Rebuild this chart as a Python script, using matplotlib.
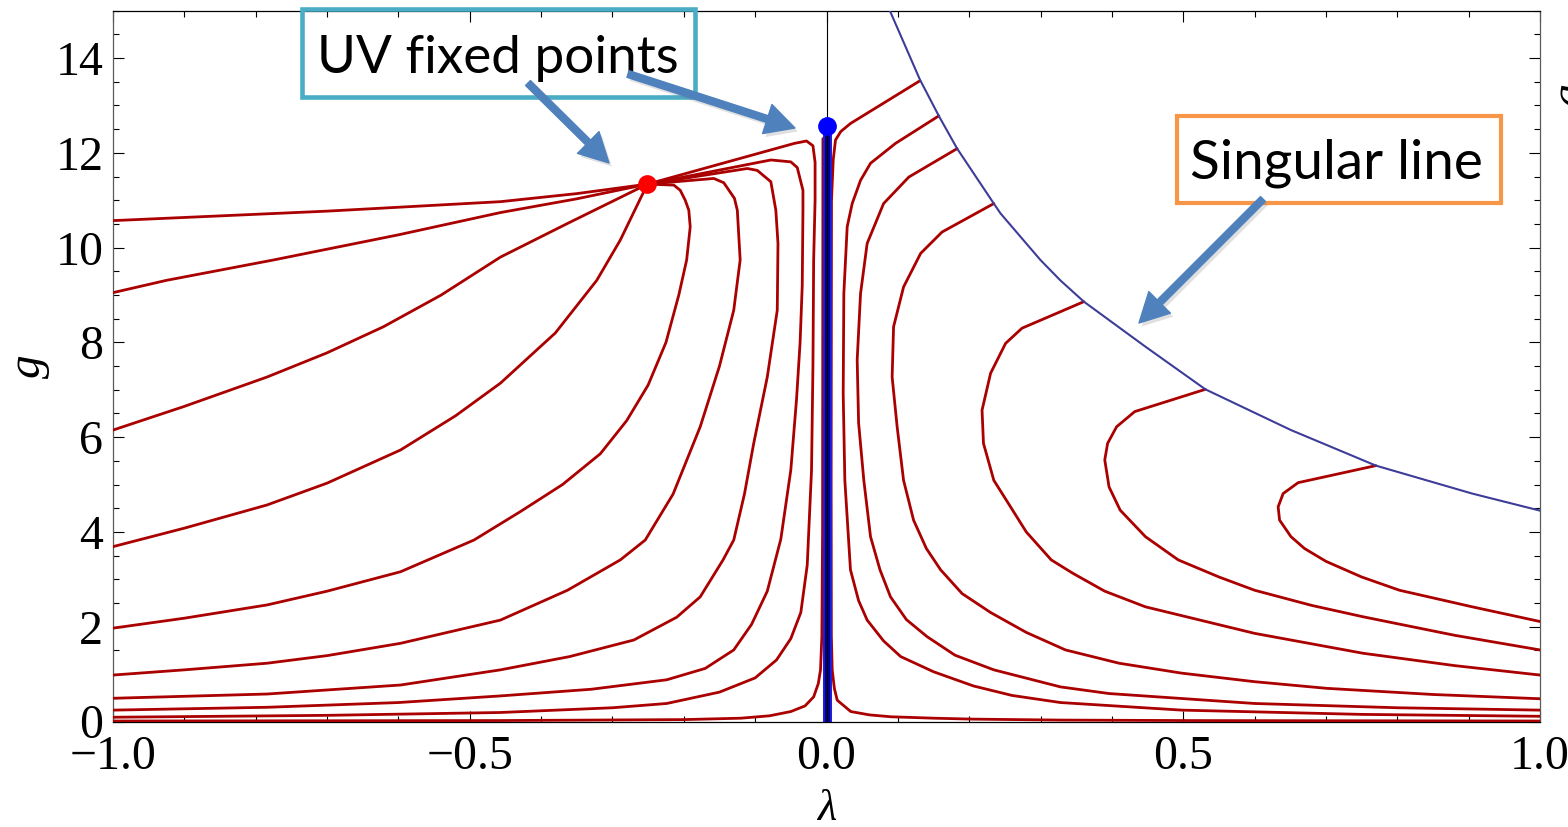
"""RG flow diagram in the (lambda, g) plane with the two UV fixed points and the singular line."""

import matplotlib

matplotlib.use("Agg")
import matplotlib.pyplot as plt
import matplotlib.patheffects as pe
from matplotlib.patches import Rectangle, FancyArrowPatch, ArrowStyle
from matplotlib.ticker import MultipleLocator

W, H = 1568, 827

# --- data ----------------------------------------------------------------
X_TICKS = [-1.0, -0.5, 0.0, 0.5, 1.0]
X_TICK_LABELS = ["\u22121.0", "\u22120.5", "0.0", "0.5", "1.0"]
Y_TICKS = [0, 2, 4, 6, 8, 10, 12, 14]

NGFP = (-0.251, 11.34)   # red fixed point
GFP = (0.0, 12.56)       # blue fixed point
GFP_LINE_G = [0.0, 12.56]

SING_LAM = [0.0888, 0.1308, 0.1574, 0.1831, 0.2345, 0.244, 0.2998, 0.3277,
            0.3607, 0.447, 0.531, 0.651, 0.770, 0.905, 1.0]
SING_G = [15.0, 13.55, 12.78, 12.09, 10.93, 10.72, 9.74, 9.31,
          8.86, 7.91, 7.01, 6.15, 5.40, 4.81, 4.45]

# trajectories on the lambda < 0 side (ending in the red fixed point)
A1_LAM = [-1.0, -0.7, -0.457, -0.35, -0.251]
A1_G = [10.57, 10.77, 10.97, 11.14, 11.34]
A2_LAM = [-1.0, -0.925, -0.775, -0.6, -0.457, -0.35, -0.251]
A2_G = [9.05, 9.31, 9.74, 10.27, 10.74, 11.03, 11.34]
A3_LAM = [-1.0, -0.9, -0.784, -0.7, -0.621, -0.54, -0.457, -0.363, -0.251]
A3_G = [6.15, 6.65, 7.27, 7.78, 8.33, 9.0, 9.8, 10.51, 11.34]
A4_LAM = [-1.0, -0.9, -0.784, -0.7, -0.597, -0.52, -0.457, -0.38, -0.322, -0.289, -0.251]
A4_G = [3.69, 4.08, 4.57, 5.03, 5.73, 6.45, 7.14, 8.2, 9.31, 10.16, 11.34]
A5_LAM = [-1.0, -0.9, -0.784, -0.7, -0.597, -0.494, -0.429, -0.37, -0.317, -0.28,
          -0.25, -0.225, -0.207, -0.196, -0.191, -0.193, -0.198, -0.205, -0.214, -0.251]
A5_G = [1.97, 2.18, 2.46, 2.75, 3.16, 3.83, 4.43, 5.0, 5.65, 6.35,
        7.1, 8.0, 9.0, 9.74, 10.44, 10.79, 11.0, 11.21, 11.32, 11.34]
A6_LAM = [-1.0, -0.9, -0.784, -0.7, -0.597, -0.457, -0.363, -0.289, -0.254, -0.215,
          -0.177, -0.15, -0.13, -0.121, -0.125, -0.129, -0.144, -0.158, -0.251]
A6_G = [0.98, 1.09, 1.23, 1.39, 1.65, 2.14, 2.77, 3.41, 3.83, 4.8,
        6.22, 7.5, 8.68, 9.74, 10.79, 11.04, 11.37, 11.46, 11.34]
A7_LAM = [-1.0, -0.784, -0.597, -0.457, -0.36, -0.27, -0.21, -0.177, -0.145, -0.13,
          -0.115, -0.102, -0.083, -0.069, -0.068, -0.071, -0.078, -0.097, -0.111, -0.251]
A7_G = [0.49, 0.58, 0.77, 1.09, 1.37, 1.72, 2.2, 2.63, 3.41, 3.83,
        4.8, 5.87, 7.27, 8.68, 10.09, 10.79, 11.39, 11.63, 11.67, 11.34]
A8_LAM = [-1.0, -0.784, -0.6, -0.457, -0.33, -0.224, -0.17, -0.13, -0.105, -0.083,
          -0.064, -0.05, -0.042, -0.037, -0.034, -0.033, -0.033, -0.041, -0.05, -0.078, -0.251]
A8_G = [0.24, 0.30, 0.40, 0.54, 0.68, 0.88, 1.12, 1.51, 2.05, 2.75,
        3.85, 5.31, 6.8, 8.0, 9.2, 10.79, 11.21, 11.69, 11.81, 11.85, 11.34]
A9_LAM = [-1.0, -0.7, -0.457, -0.3, -0.224, -0.15, -0.1, -0.07, -0.05, -0.036,
          -0.027, -0.021, -0.019, -0.018, -0.016, -0.016, -0.019, -0.028, -0.045, -0.251]
A9_G = [0.09, 0.13, 0.19, 0.29, 0.38, 0.62, 0.92, 1.3, 1.75, 2.3,
        3.3, 5.3, 7.5, 9.74, 11.0, 11.8, 12.15, 12.25, 12.2, 11.34]
A10_LAM = [-1.0, -0.457, -0.2, -0.12, -0.08, -0.05, -0.03, -0.018, -0.0115, -0.0084,
           -0.0065, -0.0055, -0.005]
A10_G = [0.01, 0.02, 0.04, 0.07, 0.12, 0.21, 0.33, 0.52, 0.8, 1.09,
         1.79, 4.0, 12.3]

# trajectories on the lambda > 0 side (starting on the singular line)
R1_LAM = [0.1308, 0.0336, 0.02, 0.0126, 0.0094, 0.007, 0.0065, 0.0068, 0.008, 0.011,
          0.015, 0.034, 0.06, 0.09, 0.15, 0.206, 0.328, 0.5, 0.75, 1.0]
R1_G = [13.52, 12.62, 12.45, 12.27, 11.85, 11.0, 5.0, 1.8, 1.09, 0.7,
        0.45, 0.21, 0.14, 0.10, 0.07, 0.05, 0.03, 0.02, 0.015, 0.01]
R2_LAM = [0.1574, 0.0967, 0.0617, 0.0477, 0.036, 0.029, 0.0243, 0.0234, 0.0257, 0.0336,
          0.045, 0.057, 0.08, 0.104, 0.15, 0.206, 0.26, 0.328, 0.498, 0.75, 1.0]
R2_G = [12.78, 12.2, 11.78, 11.42, 10.93, 10.44, 9.03, 6.92, 5.09, 3.2,
        2.55, 2.14, 1.7, 1.37, 1.05, 0.75, 0.55, 0.40, 0.24, 0.15, 0.11]
R3_LAM = [0.1831, 0.1154, 0.08, 0.057, 0.0477, 0.043, 0.045, 0.0523, 0.0617, 0.075,
          0.0897, 0.112, 0.141, 0.18, 0.2345, 0.328, 0.396, 0.6, 0.8, 1.0]
R3_G = [12.09, 11.49, 10.93, 10.09, 9.03, 7.63, 6.3, 5.09, 3.90, 3.2,
        2.63, 2.15, 1.79, 1.4, 1.09, 0.73, 0.59, 0.38, 0.29, 0.24]
R4_LAM = [0.2345, 0.162, 0.132, 0.108, 0.094, 0.092, 0.099, 0.108, 0.122, 0.14,
          0.160, 0.19, 0.23, 0.28, 0.335, 0.41, 0.498, 0.6, 0.701, 0.85, 1.0]
R4_G = [10.93, 10.33, 9.88, 9.17, 8.33, 7.27, 6.22, 5.09, 4.25, 3.65,
        3.20, 2.7, 2.3, 1.88, 1.51, 1.23, 1.02, 0.84, 0.70, 0.57, 0.48]
R5_LAM = [0.3607, 0.274, 0.251, 0.23, 0.218, 0.22, 0.2345, 0.255, 0.28, 0.315,
          0.345, 0.39, 0.447, 0.6, 0.752, 0.88, 1.0]
R5_G = [8.86, 8.30, 7.98, 7.35, 6.57, 5.87, 5.09, 4.6, 4.0, 3.41,
        3.13, 2.75, 2.42, 1.86, 1.44, 1.18, 0.98]
R6_LAM = [0.531, 0.432, 0.4066, 0.394, 0.390, 0.396, 0.4116, 0.447, 0.493, 0.55,
          0.6, 0.68, 0.752, 0.88, 1.0]
R6_G = [7.01, 6.54, 6.22, 5.87, 5.52, 4.95, 4.46, 3.90, 3.41, 3.05,
        2.77, 2.45, 2.21, 1.82, 1.51]
R7_LAM = [0.770, 0.661, 0.640, 0.633, 0.635, 0.651, 0.67, 0.70, 0.75, 0.803, 0.905, 1.0]
R7_G = [5.40, 5.04, 4.81, 4.53, 4.25, 3.90, 3.65, 3.38, 3.05, 2.77, 2.42, 2.11]

FLOWS = [
    (A1_LAM, A1_G), (A2_LAM, A2_G), (A3_LAM, A3_G), (A4_LAM, A4_G), (A5_LAM, A5_G),
    (A6_LAM, A6_G), (A7_LAM, A7_G), (A8_LAM, A8_G), (A9_LAM, A9_G), (A10_LAM, A10_G),
    (R1_LAM, R1_G), (R2_LAM, R2_G), (R3_LAM, R3_G), (R4_LAM, R4_G),
    (R5_LAM, R5_G), (R6_LAM, R6_G), (R7_LAM, R7_G),
]

# --- styling --------------------------------------------------------------
FLOW_RED = "#aa0000"
SING_BLUE = "#3d3d99"
ARROW_BLUE = "#4f81bd"
SERIF = "Liberation Serif"
SANS = "Lato"


def fig_xy(x, y):
    """Pixel position (from top-left) to figure fraction."""
    return x / W, 1 - y / H


def main():
    fig = plt.figure(figsize=(W / 100, H / 100), dpi=100)
    ax = fig.add_axes([113 / W, 1 - 721.5 / H, 1427 / W, 710.8 / H])

    for lam, g in FLOWS:
        ax.plot(lam, g, color=FLOW_RED, lw=2.0, zorder=2.6,
                solid_joinstyle="round", solid_capstyle="round")
    ax.plot(SING_LAM, SING_G, color=SING_BLUE, lw=1.5, zorder=2.7,
            solid_joinstyle="round")

    # fixed point at lambda = 0 and its critical line
    ax.axvline(0, color="black", lw=0.8, zorder=1)
    ax.plot([GFP[0], GFP[0]], GFP_LINE_G, color="#2020dd", lw=6.5,
            solid_capstyle="butt", zorder=3)
    ax.plot([GFP[0], GFP[0]], GFP_LINE_G, color="#000088", lw=3.8,
            solid_capstyle="butt", zorder=3.1)
    ax.plot([GFP[0], GFP[0]], GFP_LINE_G, color="black", lw=0.8, zorder=3.2)
    ax.plot(*GFP, "o", color="#0000ff", ms=13.5, mec="none", zorder=5)
    ax.plot(*NGFP, "o", color="#ff0000", ms=13.5, mec="none", zorder=5)

    ax.set_xlim(-1, 1)
    ax.set_ylim(0, 15)
    ax.set_xticks(X_TICKS)
    ax.set_xticklabels(X_TICK_LABELS, family=SERIF, fontsize=34.5)
    ax.set_yticks(Y_TICKS)
    ax.set_yticklabels([str(v) for v in Y_TICKS], family=SERIF, fontsize=34.5)
    ax.xaxis.set_minor_locator(MultipleLocator(0.1))
    ax.yaxis.set_minor_locator(MultipleLocator(0.5))
    ax.tick_params(which="both", direction="in", top=True, right=True, width=0.8)
    ax.tick_params(which="major", length=7.7)
    ax.tick_params(which="minor", length=4.3)
    ax.tick_params(axis="x", pad=10)
    ax.tick_params(axis="y", pad=7)
    for side in ("left", "right"):
        ax.spines[side].set_color("#5a5a5a")
    for side in ax.spines:
        ax.spines[side].set_linewidth(0.9)

    ax.set_xlabel("\u03bb", family=SERIF, style="italic", fontsize=32)
    ax.xaxis.set_label_coords(0.5, -0.123)
    ax.xaxis.label.set_va("center")
    ax.set_ylabel("g", family=SERIF, style="italic", fontsize=34, rotation=90)
    ax.yaxis.set_label_coords(-0.0589, 0.5)
    ax.yaxis.label.set_va("center")

    # clipped label of the neighbouring panel at the right edge
    fig.text(*fig_xy(1572, 95), "g", family=SERIF, style="italic", fontsize=34,
             rotation=90, ha="center", va="center")

    # annotation boxes
    boxes = [
        ((301.5, 9.0), 393.0, 88.0, "#4bacc6", 3.3, (317, 73), "UV fixed points", 38.2),
        ((1177.0, 116.0), 324.0, 87.0, "#f79646", 3.0, (1190, 178), "Singular line", 39.5),
    ]
    for (x0, y0), w, h, col, lw, (tx, ty), label, size in boxes:
        fig.add_artist(Rectangle(fig_xy(x0, y0 + h), w / W, h / H, transform=fig.transFigure,
                                 facecolor="none", edgecolor=col, lw=lw, zorder=6))
        fig.text(*fig_xy(tx, ty), label, family=SANS, fontsize=size,
                 ha="left", va="baseline", zorder=7)

    # arrows with a soft drop shadow
    arrows = [((528, 83), (609, 163)), ((628, 74), (795, 128)), ((1263, 199), (1139, 323))]
    style = ArrowStyle.Simple(head_length=21, head_width=22, tail_width=5)
    for tail, tip in arrows:
        arr = FancyArrowPatch(fig_xy(*tail), fig_xy(*tip), transform=fig.transFigure,
                              arrowstyle=style, mutation_scale=1, color=ARROW_BLUE,
                              shrinkA=0, shrinkB=0, zorder=8)
        arr.set_path_effects([pe.SimplePatchShadow(offset=(2, -2.5), shadow_rgbFace="0.45",
                                                   alpha=0.22), pe.Normal()])
        fig.add_artist(arr)

    fig.savefig("out.png", dpi=100)


if __name__ == "__main__":
    main()
